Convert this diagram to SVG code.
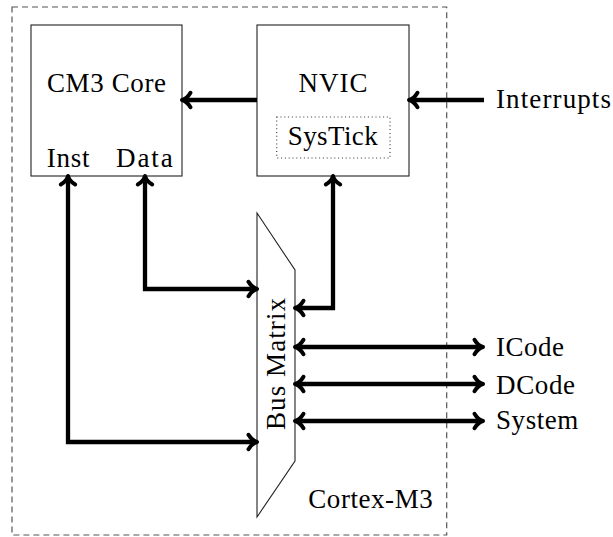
<svg xmlns="http://www.w3.org/2000/svg" width="613" height="537" viewBox="0 0 613 537">
<style>
text{font-family:"Liberation Serif","DejaVu Serif",serif;font-size:27px;fill:#000}
.box{fill:#fff;stroke:#222;stroke-width:1.1}
.conn{fill:none;stroke:#000;stroke-width:4.3}
</style>
<defs>
<marker id="ah" markerUnits="userSpaceOnUse" markerWidth="24" markerHeight="24" viewBox="-12 -12 24 24" refX="-1.5" refY="0" orient="auto-start-reverse" overflow="visible">
<path d="M-8.5,-7.2 C-6.2,-3.3 -2.6,-0.7 0,0 C-2.6,0.7 -6.2,3.3 -8.5,7.2" fill="none" stroke="#000" stroke-width="4" stroke-linecap="round" stroke-linejoin="round"/>
</marker>
</defs>
<g id="cortex-m3">
<rect x="12" y="7" width="434.7" height="528" fill="none" stroke="#555" stroke-width="1.2" stroke-dasharray="6 4"/>
<text x="432.7" y="508.3" text-anchor="end" textLength="124.4">Cortex-M3</text>
</g>
<g id="cm3core">
<rect class="box" x="31" y="25" width="151" height="151"/>
<text x="106.5" y="92" text-anchor="middle" textLength="119">CM3 Core</text>
<text x="46.7" y="166.7" textLength="42.7">Inst</text>
<text x="116" y="166.7" textLength="56.7">Data</text>
</g>
<g id="nvic">
<rect class="box" x="257" y="25" width="152" height="151"/>
<text x="333" y="92" text-anchor="middle" textLength="69">NVIC</text>
<rect x="276.7" y="117" width="113.3" height="41" fill="none" stroke="#333" stroke-width="1.1" stroke-dasharray="1 2.8"/>
<text x="332.7" y="144.5" text-anchor="middle" textLength="90">SysTick</text>
</g>
<g id="busmatrix">
<path class="box" d="M257,213 L295,270 L295,461 L257,517 Z"/>
<text transform="translate(285,364) rotate(-90)" text-anchor="middle" textLength="132">Bus Matrix</text>
</g>
<g id="labels">
<text x="496" y="107.5" textLength="115">Interrupts</text>
<text x="496" y="356" textLength="68">ICode</text>
<text x="496" y="393.5" textLength="79">DCode</text>
<text x="496" y="429.3" textLength="82.3">System</text>
</g>
<g id="connectors">
<path class="conn" d="M257,100 H183.5" marker-end="url(#ah)"/>
<path class="conn" d="M484,100 H410.5" marker-end="url(#ah)"/>
<path class="conn" d="M68,177.5 V442 H255.5" marker-start="url(#ah)" marker-end="url(#ah)"/>
<path class="conn" d="M145,177.5 V289 H255.5" marker-start="url(#ah)" marker-end="url(#ah)"/>
<path class="conn" d="M333,177.5 V308 H296.5" marker-start="url(#ah)" marker-end="url(#ah)"/>
<path class="conn" d="M296.5,347 H481.5" marker-start="url(#ah)" marker-end="url(#ah)"/>
<path class="conn" d="M296.5,384 H481.5" marker-start="url(#ah)" marker-end="url(#ah)"/>
<path class="conn" d="M296.5,421 H481.5" marker-start="url(#ah)" marker-end="url(#ah)"/>
</g>
</svg>
